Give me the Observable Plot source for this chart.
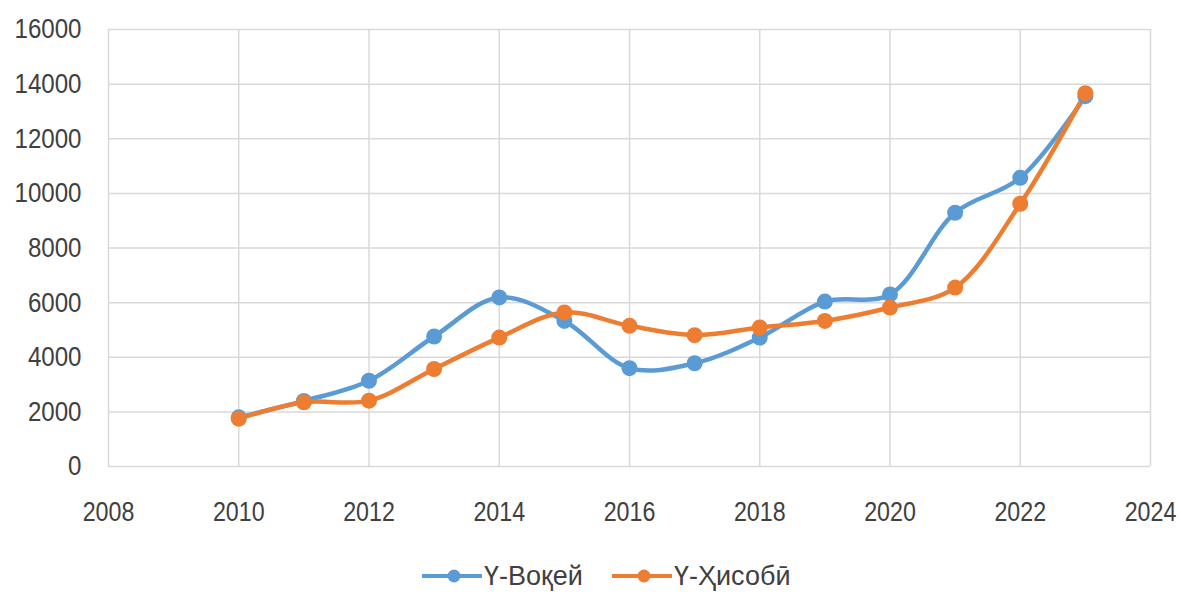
<!DOCTYPE html>
<html><head><meta charset="utf-8">
<script src="https://cdn.jsdelivr.net/npm/d3@7"></script>
<script src="https://cdn.jsdelivr.net/npm/@observablehq/plot@0.6"></script>
<style>
body{margin:0;background:#fff;font-family:"Liberation Sans",sans-serif;}
#legend{position:relative;height:50px;font-size:27px;color:#404040}
.item{position:absolute;top:14px;display:flex;align-items:center;height:34px}
.item span{white-space:nowrap}
</style></head><body>
<div id="chart"></div>
<div id="legend"></div>
<script>
const years = [2010,2011,2012,2013,2014,2015,2016,2017,2018,2019,2020,2021,2022,2023];
const actual = [1800,2400,3140,4760,6190,5330,3600,3780,4720,6040,6300,9290,10570,13560];
const calculated = [1750,2350,2410,3570,4720,5640,5150,4810,5090,5330,5820,6550,9620,13670];
const seriesNames = ["Ү-Воқей","Ү-Ҳисобӣ"];
const colors = ["#5b9bd5","#ed7d31"];
const xTicks = [2008,2010,2012,2014,2016,2018,2020,2022,2024];
const yTicks = [0,2000,4000,6000,8000,10000,12000,14000,16000];

const data = [];
years.forEach((y,i)=>{
  data.push({year:y, value:actual[i], series:seriesNames[0]});
  data.push({year:y, value:calculated[i], series:seriesNames[1]});
});

const chart = Plot.plot({
  width:1182, height:545,
  marginLeft:108, marginRight:32, marginTop:29, marginBottom:79,
  style:{fontFamily:"'Liberation Sans',sans-serif", fontSize:"28px", color:"#404040", background:"#fff"},
  x:{domain:[2008,2024], ticks:xTicks, tickFormat:d=>String(d), tickSize:0, tickPadding:35, label:null},
  y:{domain:[0,16000], ticks:yTicks, tickFormat:d=>String(d), tickSize:0, tickPadding:27, label:null},
  color:{domain:seriesNames, range:colors},
  marks:[
    Plot.ruleX(xTicks,{stroke:"#d9d9d9",strokeWidth:1.5}),
    Plot.ruleY(yTicks,{stroke:"#d9d9d9",strokeWidth:1.5}),
    Plot.line(data,{x:"year",y:"value",stroke:"series",curve:"catmull-rom",strokeWidth:4.5}),
    Plot.dot(data,{x:"year",y:"value",fill:"series",r:8})
  ]
});
document.getElementById("chart").appendChild(chart);
// condense tick labels to mimic the narrow original typeface
d3.select(chart).selectAll("g[aria-label='x-axis tick label'] text").attr("font-size", 27);
d3.select(chart).selectAll("g[aria-label$='tick label'] text").each(function(){
  const len = this.getComputedTextLength();
  this.setAttribute("textLength", (len*0.86).toFixed(1));
  this.setAttribute("lengthAdjust","spacingAndGlyphs");
});

const leg = document.getElementById("legend");
const legX = [422, 612];
seriesNames.forEach((n,i)=>{
  const d = document.createElement("div"); d.className="item";
  d.style.left = legX[i]+"px";
  d.innerHTML = `<svg width="60" height="20" style="margin-right:2px"><line x1="0" x2="60" y1="10" y2="10" stroke="${colors[i]}" stroke-width="4"/><circle cx="32" cy="10" r="6.5" fill="${colors[i]}"/></svg><span>${n}</span>`;
  leg.appendChild(d);
});
</script>
</body></html>
